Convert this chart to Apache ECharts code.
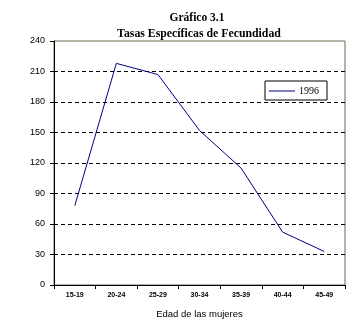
<!DOCTYPE html>
<html>
<head>
<meta charset="utf-8">
<script src="https://cdn.jsdelivr.net/npm/echarts@6/dist/echarts.min.js"></script>
<style>
  html, body { margin: 0; padding: 0; background: #ffffff; }
  #chart { width: 363px; height: 324px; }
</style>
</head>
<body>
<div id="chart"></div>
<script>
// Age groups of women and the 1996 age-specific fertility rates
const ageGroups = ['15-19', '20-24', '25-29', '30-34', '35-39', '40-44', '45-49'];
const rates1996 = [78, 218, 207, 152, 115, 52, 33];
const seriesName = '1996';
const yTicks = { min: 0, max: 240, step: 30 };

const chart = echarts.init(document.getElementById('chart'), null, { renderer: 'canvas' });

// dashed guides at 30..210; 0 and 240 are left to the axis line and plot border
const gridCount = (yTicks.max - yTicks.min) / yTicks.step + 1;
const splitColors = [];
for (let i = 0; i < gridCount; i++) {
  splitColors.push(i === 0 || i === gridCount - 1 ? 'rgba(0,0,0,0)' : '#000000');
}

chart.setOption({
  animation: false,
  backgroundColor: '#ffffff',
  title: [
    {
      text: 'Gráfico 3.1',
      left: 192, top: 7, textAlign: 'center',
      textStyle: { fontFamily: 'Liberation Serif', fontWeight: 'bold', fontSize: 11.5, color: '#000' }
    },
    {
      text: 'Tasas Específicas de Fecundidad',
      left: 194, top: 23, textAlign: 'center',
      textStyle: { fontFamily: 'Liberation Serif', fontWeight: 'bold', fontSize: 11.8, color: '#000' }
    }
  ],
  legend: {
    left: 265, top: 81,
    orient: 'horizontal',
    backgroundColor: '#ffffff',
    borderColor: '#000000',
    borderWidth: 1,
    borderRadius: 0,
    padding: [5, 8, 4, 4],
    icon: 'rect',
    itemWidth: 26,
    itemHeight: 1,
    textStyle: { fontFamily: 'Liberation Serif', fontSize: 10, color: '#000', padding: [0, 0, 0, -1] },
    data: [seriesName]
  },
  grid: {
    left: 54, right: 18, top: 41, bottom: 39,
    show: true,
    borderColor: '#6b6b4e',
    borderWidth: 1,
    backgroundColor: '#ffffff'
  },
  xAxis: {
    type: 'category',
    data: ageGroups,
    boundaryGap: true,
    name: 'Edad de las mujeres',
    nameLocation: 'middle',
    nameGap: 24,
    nameTextStyle: { fontFamily: 'Liberation Sans', fontSize: 9.5, color: '#000' },
    axisLine: { lineStyle: { color: '#000', width: 1 } },
    axisTick: { show: true, length: 4, inside: false, lineStyle: { color: '#000' } },
    axisLabel: { margin: 7, fontFamily: 'Liberation Sans', fontWeight: 'bold', fontSize: 7, color: '#000' },
    splitLine: { show: false }
  },
  yAxis: {
    type: 'value',
    min: yTicks.min, max: yTicks.max, interval: yTicks.step,
    axisLine: { show: true, lineStyle: { color: '#000', width: 1 } },
    axisTick: { show: true, length: 4, lineStyle: { color: '#000' } },
    axisLabel: { margin: 9, fontFamily: 'Liberation Sans', fontSize: 9, color: '#000' },
    splitLine: { show: true, lineStyle: { color: splitColors, type: [4, 3], width: 1 } }
  },
  series: [
    {
      name: seriesName,
      type: 'line',
      data: rates1996,
      showSymbol: false,
      symbol: 'none',
      lineStyle: { color: '#000080', width: 1 },
      itemStyle: { color: '#000080' }
    }
  ]
});
</script>
</body>
</html>
